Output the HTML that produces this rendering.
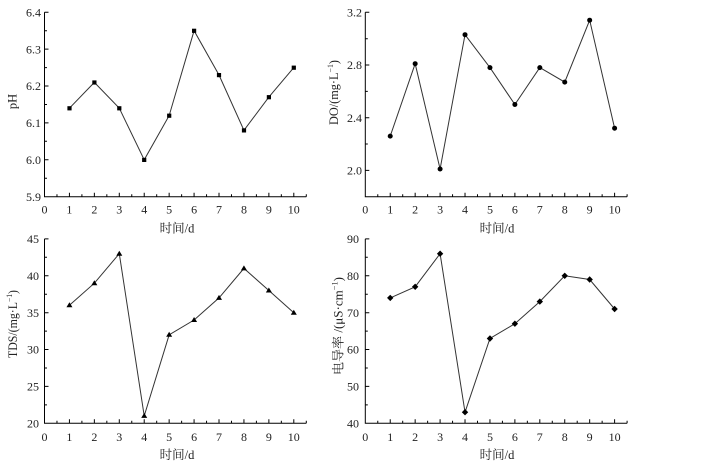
<!DOCTYPE html>
<html><head><meta charset="utf-8"><style>
html,body{margin:0;padding:0;background:#fff;}
svg{display:block;}
text{font-family:"Liberation Serif","Noto Serif CJK SC",serif;fill:#222;}
</style></head><body>
<svg width="708" height="472" viewBox="0 0 708 472" xmlns="http://www.w3.org/2000/svg">
<g stroke="#000" stroke-width="1" fill="none">
<!-- Panel 1 axes -->
<path d="M44.5,12.3 V196.7 H306.3"/>
<path d="M44.5,12.3h4 M44.5,30.7h2.5 M44.5,49.1h4 M44.5,67.6h2.5 M44.5,86h4 M44.5,104.5h2.5 M44.5,122.9h4 M44.5,141.3h2.5 M44.5,159.8h4 M44.5,178.2h2.5"/>
<path d="M56.97,196.7v-2.5 M69.43,196.7v-4 M81.9,196.7v-2.5 M94.36,196.7v-4 M106.83,196.7v-2.5 M119.29,196.7v-4 M131.76,196.7v-2.5 M144.22,196.7v-4 M156.69,196.7v-2.5 M169.15,196.7v-4 M181.62,196.7v-2.5 M194.08,196.7v-4 M206.55,196.7v-2.5 M219.01,196.7v-4 M231.48,196.7v-2.5 M243.94,196.7v-4 M256.41,196.7v-2.5 M268.87,196.7v-4 M281.34,196.7v-2.5 M293.8,196.7v-4 M306.3,196.7v-2.5"/>
<!-- Panel 2 axes -->
<path d="M365.3,12.3 V196.7 H627.1"/>
<path d="M365.3,12.3h4 M365.3,38.7h2.5 M365.3,65h4 M365.3,91.4h2.5 M365.3,117.7h4 M365.3,144h2.5 M365.3,170.4h4"/>
<path d="M377.77,196.7v-2.5 M390.23,196.7v-4 M402.7,196.7v-2.5 M415.16,196.7v-4 M427.63,196.7v-2.5 M440.09,196.7v-4 M452.56,196.7v-2.5 M465.02,196.7v-4 M477.49,196.7v-2.5 M489.95,196.7v-4 M502.42,196.7v-2.5 M514.88,196.7v-4 M527.35,196.7v-2.5 M539.81,196.7v-4 M552.28,196.7v-2.5 M564.74,196.7v-4 M577.21,196.7v-2.5 M589.67,196.7v-4 M602.14,196.7v-2.5 M614.6,196.7v-4 M627.1,196.7v-2.5"/>
<!-- Panel 3 axes -->
<path d="M44.5,238.9 V423.3 H306.3"/>
<path d="M44.5,238.9h4 M44.5,257.3h2.5 M44.5,275.8h4 M44.5,294.2h2.5 M44.5,312.7h4 M44.5,331.1h2.5 M44.5,349.5h4 M44.5,368h2.5 M44.5,386.4h4 M44.5,404.9h2.5"/>
<path d="M56.97,423.3v-2.5 M69.43,423.3v-4 M81.9,423.3v-2.5 M94.36,423.3v-4 M106.83,423.3v-2.5 M119.29,423.3v-4 M131.76,423.3v-2.5 M144.22,423.3v-4 M156.69,423.3v-2.5 M169.15,423.3v-4 M181.62,423.3v-2.5 M194.08,423.3v-4 M206.55,423.3v-2.5 M219.01,423.3v-4 M231.48,423.3v-2.5 M243.94,423.3v-4 M256.41,423.3v-2.5 M268.87,423.3v-4 M281.34,423.3v-2.5 M293.8,423.3v-4 M306.3,423.3v-2.5"/>
<!-- Panel 4 axes -->
<path d="M365.3,238.9 V423.3 H627.1"/>
<path d="M365.3,238.9h4 M365.3,257.3h2.5 M365.3,275.8h4 M365.3,294.2h2.5 M365.3,312.7h4 M365.3,331.1h2.5 M365.3,349.5h4 M365.3,368h2.5 M365.3,386.4h4 M365.3,404.9h2.5"/>
<path d="M377.77,423.3v-2.5 M390.23,423.3v-4 M402.7,423.3v-2.5 M415.16,423.3v-4 M427.63,423.3v-2.5 M440.09,423.3v-4 M452.56,423.3v-2.5 M465.02,423.3v-4 M477.49,423.3v-2.5 M489.95,423.3v-4 M502.42,423.3v-2.5 M514.88,423.3v-4 M527.35,423.3v-2.5 M539.81,423.3v-4 M552.28,423.3v-2.5 M564.74,423.3v-4 M577.21,423.3v-2.5 M589.67,423.3v-4 M602.14,423.3v-2.5 M614.6,423.3v-4 M627.1,423.3v-2.5"/>
</g>

<!-- Series lines -->
<g stroke="#333" stroke-width="1" fill="none">
<polyline points="69.43,108.2 94.36,82.4 119.29,108.2 144.22,159.8 169.15,115.6 194.08,30.7 219.01,75 243.94,130.3 268.87,97.1 293.8,67.6"/>
<polyline points="390.23,136.1 415.16,63.7 440.09,169 465.02,34.7 489.95,67.6 514.88,104.5 539.81,67.6 564.74,82.1 589.67,20.2 614.6,128.2"/>
<polyline points="69.43,305.3 94.36,283.2 119.29,253.7 144.22,415.9 169.15,334.8 194.08,320 219.01,297.9 243.94,268.4 268.87,290.5 293.8,312.7"/>
<polyline points="390.23,297.9 415.16,286.8 440.09,253.7 465.02,412.2 489.95,338.5 514.88,323.7 539.81,301.6 564.74,275.8 589.67,279.5 614.6,309"/>
</g>

<!-- Markers -->
<g fill="#000">
<!-- squares -->
<rect x="67.4" y="106.2" width="4.2" height="4.2"/>
<rect x="92.3" y="80.4" width="4.2" height="4.2"/>
<rect x="117.2" y="106.2" width="4.2" height="4.2"/>
<rect x="142.1" y="157.8" width="4.2" height="4.2"/>
<rect x="167.1" y="113.6" width="4.2" height="4.2"/>
<rect x="192" y="28.7" width="4.2" height="4.2"/>
<rect x="216.9" y="73" width="4.2" height="4.2"/>
<rect x="241.9" y="128.3" width="4.2" height="4.2"/>
<rect x="266.8" y="95.1" width="4.2" height="4.2"/>
<rect x="291.7" y="65.6" width="4.2" height="4.2"/>
<!-- circles -->
<circle cx="390.23" cy="136.1" r="2.5"/>
<circle cx="415.16" cy="63.7" r="2.5"/>
<circle cx="440.09" cy="169" r="2.5"/>
<circle cx="465.02" cy="34.7" r="2.5"/>
<circle cx="489.95" cy="67.6" r="2.5"/>
<circle cx="514.88" cy="104.5" r="2.5"/>
<circle cx="539.81" cy="67.6" r="2.5"/>
<circle cx="564.74" cy="82.1" r="2.5"/>
<circle cx="589.67" cy="20.2" r="2.5"/>
<circle cx="614.6" cy="128.2" r="2.5"/>
<!-- triangles -->
<path d="M69.43,302.3 l3,5 h-6z M94.36,280.2 l3,5 h-6z M119.29,250.7 l3,5 h-6z M144.22,412.9 l3,5 h-6z M169.15,331.8 l3,5 h-6z M194.08,317 l3,5 h-6z M219.01,294.9 l3,5 h-6z M243.94,265.4 l3,5 h-6z M268.87,287.5 l3,5 h-6z M293.8,309.7 l3,5 h-6z"/>
<!-- diamonds -->
<path d="M390.23,294.7 l3.2,3.2 l-3.2,3.2 l-3.2,-3.2z M415.16,283.6 l3.2,3.2 l-3.2,3.2 l-3.2,-3.2z M440.09,250.5 l3.2,3.2 l-3.2,3.2 l-3.2,-3.2z M465.02,409 l3.2,3.2 l-3.2,3.2 l-3.2,-3.2z M489.95,335.3 l3.2,3.2 l-3.2,3.2 l-3.2,-3.2z M514.88,320.5 l3.2,3.2 l-3.2,3.2 l-3.2,-3.2z M539.81,298.4 l3.2,3.2 l-3.2,3.2 l-3.2,-3.2z M564.74,272.6 l3.2,3.2 l-3.2,3.2 l-3.2,-3.2z M589.67,276.3 l3.2,3.2 l-3.2,3.2 l-3.2,-3.2z M614.6,305.8 l3.2,3.2 l-3.2,3.2 l-3.2,-3.2z"/>
</g>

<!-- Y tick labels -->
<g font-size="12" text-anchor="end">
<text x="41" y="16.5">6.4</text>
<text x="41" y="53.3">6.3</text>
<text x="41" y="90.2">6.2</text>
<text x="41" y="127.1">6.1</text>
<text x="41" y="164">6.0</text>
<text x="41" y="200.9">5.9</text>

<text x="362" y="16.5">3.2</text>
<text x="362" y="69.2">2.8</text>
<text x="362" y="121.9">2.4</text>
<text x="362" y="174.6">2.0</text>

<text x="39" y="243.1">45</text>
<text x="39" y="280">40</text>
<text x="39" y="316.9">35</text>
<text x="39" y="353.7">30</text>
<text x="39" y="390.6">25</text>
<text x="39" y="427.5">20</text>

<text x="359" y="243.1">90</text>
<text x="359" y="280">80</text>
<text x="359" y="316.9">70</text>
<text x="359" y="353.7">60</text>
<text x="359" y="390.6">50</text>
<text x="359" y="427.5">40</text>
</g>

<!-- X tick labels -->
<g font-size="12" text-anchor="middle">
<text x="44.5" y="213.3">0</text><text x="69.43" y="213.3">1</text><text x="94.36" y="213.3">2</text><text x="119.29" y="213.3">3</text><text x="144.22" y="213.3">4</text><text x="169.15" y="213.3">5</text><text x="194.08" y="213.3">6</text><text x="219.01" y="213.3">7</text><text x="243.94" y="213.3">8</text><text x="268.87" y="213.3">9</text><text x="293.8" y="213.3">10</text>
<text x="365.3" y="213.3">0</text><text x="390.23" y="213.3">1</text><text x="415.16" y="213.3">2</text><text x="440.09" y="213.3">3</text><text x="465.02" y="213.3">4</text><text x="489.95" y="213.3">5</text><text x="514.88" y="213.3">6</text><text x="539.81" y="213.3">7</text><text x="564.74" y="213.3">8</text><text x="589.67" y="213.3">9</text><text x="614.6" y="213.3">10</text>
<text x="44.5" y="440.9">0</text><text x="69.43" y="440.9">1</text><text x="94.36" y="440.9">2</text><text x="119.29" y="440.9">3</text><text x="144.22" y="440.9">4</text><text x="169.15" y="440.9">5</text><text x="194.08" y="440.9">6</text><text x="219.01" y="440.9">7</text><text x="243.94" y="440.9">8</text><text x="268.87" y="440.9">9</text><text x="293.8" y="440.9">10</text>
<text x="365.3" y="440.9">0</text><text x="390.23" y="440.9">1</text><text x="415.16" y="440.9">2</text><text x="440.09" y="440.9">3</text><text x="465.02" y="440.9">4</text><text x="489.95" y="440.9">5</text><text x="514.88" y="440.9">6</text><text x="539.81" y="440.9">7</text><text x="564.74" y="440.9">8</text><text x="589.67" y="440.9">9</text><text x="614.6" y="440.9">10</text>
</g>

<!-- X axis titles -->
<g font-size="12.5" text-anchor="middle">
<text x="177" y="232.5">时间/d</text>
<text x="497" y="232.5">时间/d</text>
<text x="177" y="459">时间/d</text>
<text x="497" y="459">时间/d</text>
</g>

<!-- Y axis titles -->
<g font-size="12.5" text-anchor="middle">
<text transform="translate(16.5,101.5) rotate(-90)">pH</text>
<text transform="translate(338,92.5) rotate(-90)" textLength="65" lengthAdjust="spacingAndGlyphs">DO/(mg·L<tspan font-size="8" dy="-5">−1</tspan><tspan dy="5">)</tspan></text>
<text transform="translate(17,324) rotate(-90)" textLength="68" lengthAdjust="spacingAndGlyphs">TDS/(mg·L<tspan font-size="8" dy="-5">−1</tspan><tspan dy="5">)</tspan></text>
<text transform="translate(342.5,326) rotate(-90)" textLength="98" lengthAdjust="spacingAndGlyphs">电导率 /(μS·cm<tspan font-size="8" dy="-5">−1</tspan><tspan dy="5">)</tspan></text>
</g>
</svg>
</body></html>
